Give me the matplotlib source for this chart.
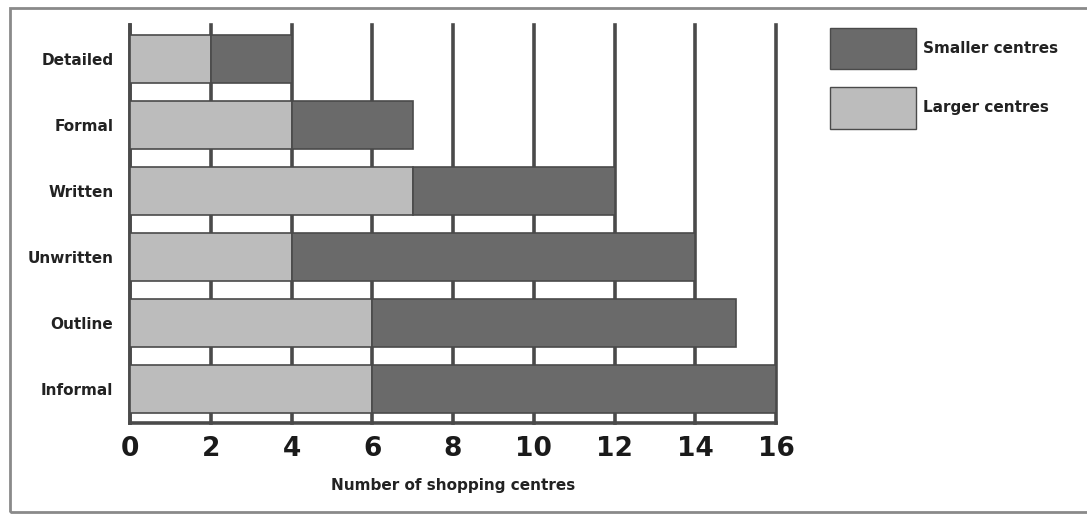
import matplotlib.pyplot as plt
from matplotlib.patches import Patch, Rectangle

categories = ["Detailed", "Formal", "Written", "Unwritten", "Outline", "Informal"]
larger = [2, 4, 7, 4, 6, 6]
smaller = [2, 3, 5, 10, 9, 10]
xticks = [0, 2, 4, 6, 8, 10, 12, 14, 16]

light = "#bcbcbc"
dark = "#6a6a6a"
edge = "#4a4a4a"

fig = plt.figure(figsize=(10.87, 5.15), dpi=100)
ax = fig.add_axes([0.1196, 0.1786, 0.5943, 0.7729])

ypos = list(range(len(categories)))
ax.barh(ypos, larger, height=0.73, color=light, edgecolor=edge, linewidth=1.2, zorder=3)
ax.barh(ypos, smaller, left=larger, height=0.73, color=dark, edgecolor=edge,
        linewidth=1.2, zorder=3)

ax.set_xlim(0, 16)
ax.set_ylim(len(categories) - 0.48, -0.52)
ax.set_yticks(ypos)
ax.set_yticklabels(categories, fontsize=11, fontweight="bold", color="#222222")
ax.set_xticks(xticks)
ax.set_xticklabels([str(t) for t in xticks], fontsize=19, fontweight="bold", color="#1a1a1a")
ax.tick_params(axis="both", length=0)
ax.tick_params(axis="x", pad=9)
ax.tick_params(axis="y", pad=12)

ax.grid(axis="x", color="#4a4a4a", linewidth=2.6, zorder=1)
for gl in ax.get_xgridlines():
    gl.set_clip_on(False)

for side in ["top", "right"]:
    ax.spines[side].set_visible(False)
for side in ["left", "bottom"]:
    ax.spines[side].set_color("#4a4a4a")
    ax.spines[side].set_linewidth(2.6)

ax.set_xlabel("Number of shopping centres", fontsize=11, fontweight="bold",
              color="#222222", labelpad=12)

handles = [Patch(facecolor=dark, edgecolor=edge, label="Smaller centres"),
           Patch(facecolor=light, edgecolor=edge, label="Larger centres")]
leg = ax.legend(handles=handles, loc="upper left", bbox_to_anchor=(0.751, 0.973),
                bbox_transform=fig.transFigure, frameon=False,
                handlelength=5.6, handleheight=3.8, labelspacing=1.2,
                handletextpad=0.5, prop={"size": 11, "weight": "bold"})
for t in leg.get_texts():
    t.set_color("#222222")

# outer frame around the whole chart
fig.patches.append(Rectangle((0.009, 0.006), 1.2, 0.978, transform=fig.transFigure,
                             fill=False, edgecolor="#8a8a8a", linewidth=2))

fig.savefig("out.png", dpi=100)
